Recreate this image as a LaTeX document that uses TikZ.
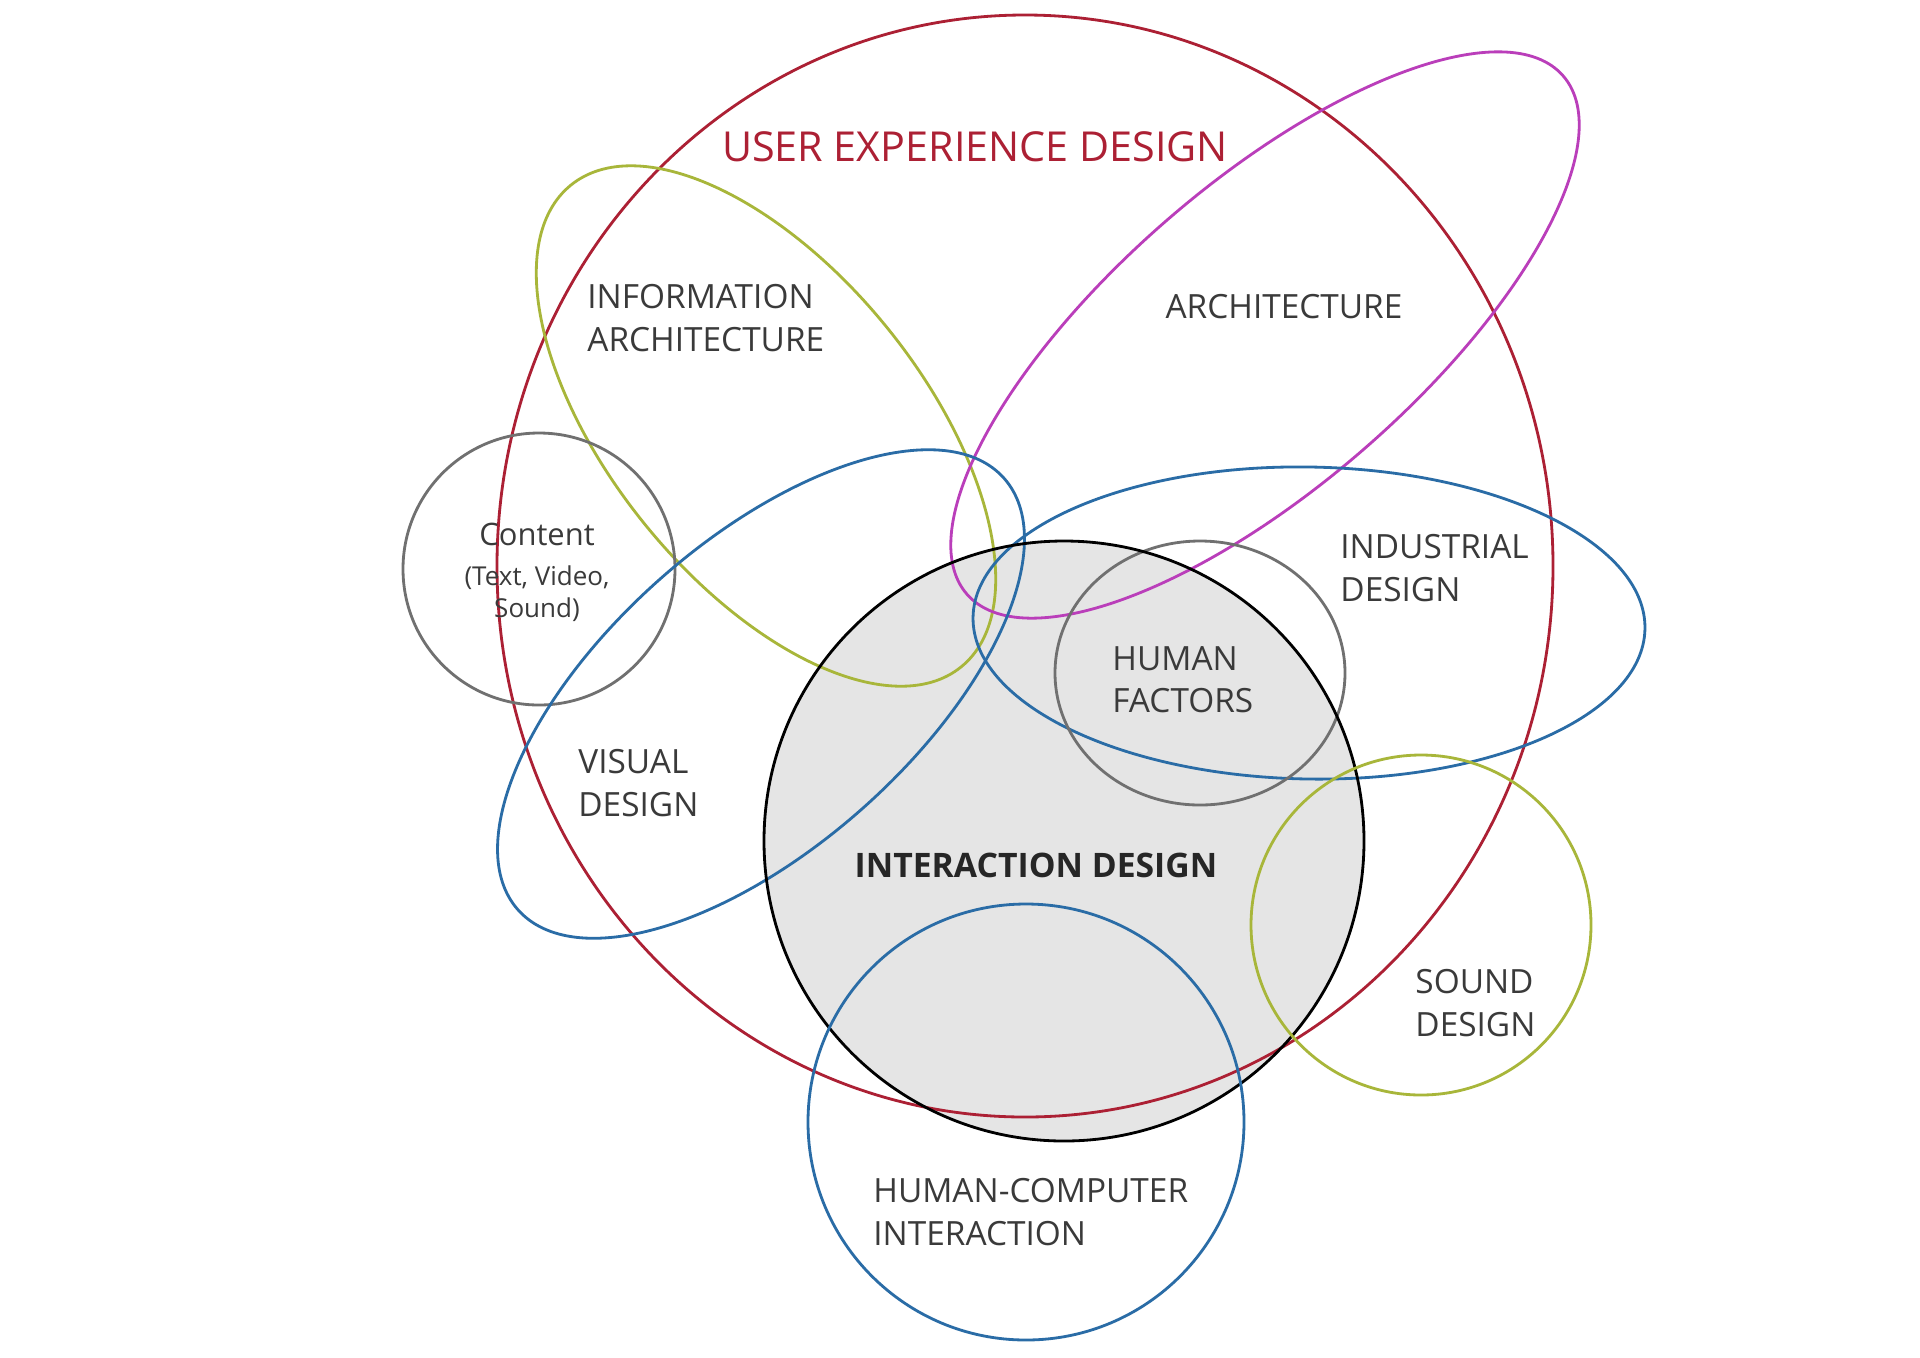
\documentclass[tikz,border=0pt]{standalone}
\usepackage{fontspec}
\setmainfont{Open Sans}
\usepackage{tikz}
\usetikzlibrary{calc}

\definecolor{uxred}{RGB}{172,32,52}
\definecolor{iagreen}{RGB}{168,182,58}
\definecolor{archpink}{RGB}{186,62,186}
\definecolor{vdblue}{RGB}{42,108,166}
\definecolor{hfgray}{RGB}{112,112,112}
\definecolor{ixdfill}{RGB}{229,229,229}
\definecolor{lblgray}{RGB}{58,58,58}

\begin{document}
\begin{tikzpicture}[x=0.02cm, y=0.02cm, line width=1.6pt,
  lbl/.style={text=lblgray, font=\fontsize{19}{24}\selectfont, align=left, anchor=west, inner sep=0pt}]
\useasboundingbox (0,0) rectangle (1920,-1357);
\fill[white] (0,0) rectangle (1920,-1357);
\fill[ixdfill] (1064,-841) circle (300);
\draw[uxred] (1025,-566) ellipse [x radius=528, y radius=551];
\draw[iagreen] (766,-426) ellipse [x radius=310, y radius=156, rotate=-51];
\draw[archpink] (1265,-335) ellipse [x radius=395, y radius=151, rotate=41];
\draw[hfgray] (539,-569) circle (136);
\draw[vdblue] (761,-694) ellipse [x radius=325, y radius=153, rotate=41.6];
\draw[vdblue] (1309,-623) ellipse [x radius=336, y radius=156, rotate=-1];
\draw[hfgray] (1200,-673) ellipse [x radius=145, y radius=132];
\draw[black] (1064,-841) circle (300);
\draw[iagreen] (1421,-925) circle (170);
\draw[vdblue] (1026,-1122) circle (218);
\path
(975,-147) node[text=uxred, font=\fontsize{23.5}{28}\selectfont, inner sep=0pt] (ux) {USER EXPERIENCE DESIGN};
\path
(586,-318) node[lbl] (ia) {INFORMATION\\ARCHITECTURE};
\path
(1284,-307) node[lbl, anchor=center] (arch) {ARCHITECTURE};
\path
(537,-572) node[text=lblgray, align=center, inner sep=0pt, font=\fontsize{14.8}{18}\selectfont] (content) {{\fontsize{17.6}{20}\selectfont Content}\\[5pt](Text, Video,\\Sound)};
\path
(1339,-568) node[lbl] (id) {INDUSTRIAL\\DESIGN};
\path
(1111,-680) node[lbl] (hf) {HUMAN\\FACTORS};
\path
(577,-783) node[lbl] (vd) {VISUAL\\DESIGN};
\path
(1036,-865) node[text=black!85, font=\bfseries\fontsize{19.2}{23}\selectfont, inner sep=0pt] (ixd) {INTERACTION DESIGN};
\path
(1414,-1003) node[lbl] (sd) {SOUND\\DESIGN};
\path
(872,-1212) node[lbl] (hci) {HUMAN-COMPUTER\\INTERACTION};
\end{tikzpicture}
\end{document}
